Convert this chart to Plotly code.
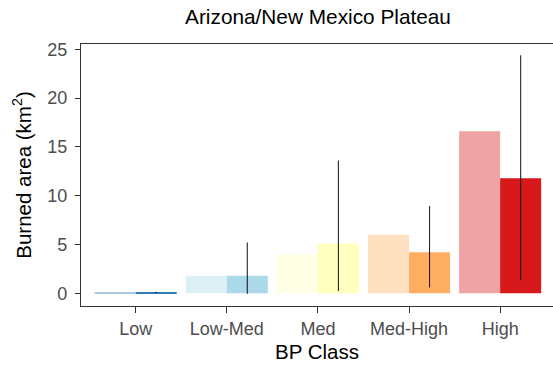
import plotly.graph_objects as go

# Burn probability classes
categories = ["Low", "Low-Med", "Med", "Med-High", "High"]

# Expected burned area (lighter bars) and observed burned area (darker bars), km²
expected_area = [0.12, 1.8, 4.0, 6.0, 16.6]
observed_area = [0.04, 1.8, 5.1, 4.2, 11.8]

# Range of observed burned area shown as vertical lines on the darker bars
observed_upper = [0.15, 5.2, 13.6, 8.95, 24.4]
observed_lower = [0.0, -0.05, 0.25, 0.6, 1.35]

class_colors = ["#2C7BB6", "#ABD9E9", "#FFFFBF", "#FDAE61", "#D7191C"]

err_plus = [u - v for u, v in zip(observed_upper, observed_area)]
err_minus = [v - l for v, l in zip(observed_area, observed_lower)]

FONT = "Liberation Sans, Arial, sans-serif"

fig = go.Figure()
fig.add_trace(go.Bar(
    x=categories, y=expected_area, name="Expected",
    marker=dict(color=class_colors, opacity=0.4, line=dict(width=0)),
    showlegend=False,
))
fig.add_trace(go.Bar(
    x=categories, y=observed_area, name="Observed",
    marker=dict(color=class_colors, line=dict(width=0)),
    error_y=dict(type="data", symmetric=False, array=err_plus, arrayminus=err_minus,
                 width=0, thickness=1.1, color="rgba(0,0,0,0.85)"),
    showlegend=False,
))

tick_font = dict(family=FONT, size=18, color="#4D4D4D")
axis_title_font = dict(family=FONT, size=20.5, color="#000000")

fig.update_layout(
    width=553, height=366,
    margin=dict(l=81, r=0, t=44, b=60),
    paper_bgcolor="white", plot_bgcolor="white",
    barmode="group", bargap=0.1, bargroupgap=0,
    title=dict(text="Arizona/New Mexico Plateau", x=318 / 553, xanchor="center",
               y=1 - 17 / 366, yanchor="middle",
               font=dict(family=FONT, size=20.8, color="#000000")),
)
fig.update_xaxes(
    type="category", range=[-0.6, 4.58],
    showline=True, linecolor="#333333", linewidth=1.3, mirror=True,
    ticks="outside", ticklen=6, tickwidth=1.3, tickcolor="#333333",
    tickfont=tick_font, ticklabelstandoff=0, showgrid=False, zeroline=False,
    title=dict(text="BP Class", font=axis_title_font, standoff=6),
)
fig.update_yaxes(
    range=[-1.3, 25.55], tickvals=[0, 5, 10, 15, 20, 25],
    showline=True, linecolor="#333333", linewidth=1.3, mirror=False,
    ticks="outside", ticklen=5, tickwidth=1.3, tickcolor="#333333",
    tickfont=tick_font, ticklabelstandoff=4, showgrid=False, zeroline=False,
    title=dict(text="Burned area (km<sup>2</sup>)", font=axis_title_font, standoff=10),
)

fig.write_html("out.html")
